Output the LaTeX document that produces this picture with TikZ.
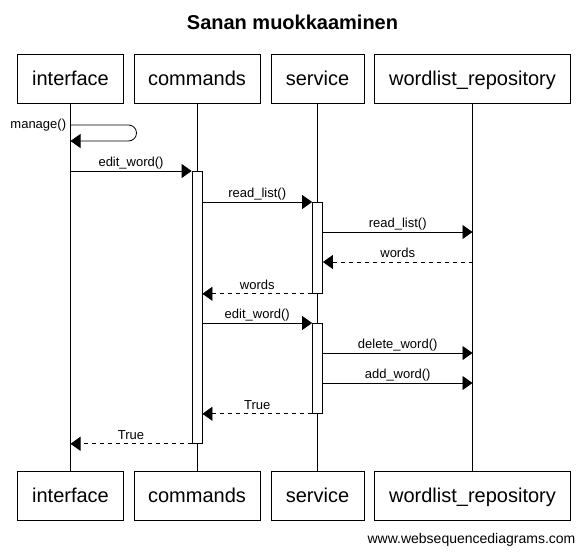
\documentclass[tikz,border=0pt]{standalone}
\usepackage{fontspec}
\setmainfont{Liberation Sans}
\usepackage{tikz}
\usetikzlibrary{arrows.meta, positioning}

\begin{document}
\begin{tikzpicture}[x=1pt, y=-1pt]
\tikzstyle{actorbox} = [rectangle, draw, line width=0.8pt, minimum height=49pt, inner sep=0pt, text height=17pt, text depth=4pt, font=\fontsize{20}{24}\selectfont]
\tikzstyle{actbar} = [rectangle, draw, line width=0.8pt, fill=white, minimum width=10pt, inner sep=0pt]
\tikzstyle{msg} = [-{Triangle[length=10pt, width=14pt]}, line width=0.8pt]
\tikzstyle{reply} = [msg, dash pattern=on 4pt off 4pt]
\tikzstyle{msglabel} = [font=\fontsize{13}{15}\selectfont, inner sep=1.2pt, text height=9.5pt, text depth=2.8pt]

\useasboundingbox (0,0) rectangle (585,554);

\node (title) at (292.5,22) {\fontsize{20}{24}\selectfont\bfseries Sanan muokkaaminen};

% participants, top and bottom
\node (ui) [actorbox, minimum width=106pt] at (70.5,78.5) {interface};
\node (cmd) [actorbox, minimum width=126pt] at (197,78.5) {commands};
\node (sv) [actorbox, minimum width=93pt] at (317.5,78.5) {service};
\node (repo) [actorbox, minimum width=196pt] at (472.5,78.5) {wordlist\_repository};

\node (ui2) [actorbox, minimum width=106pt] at (70.5,496) {interface};
\node (cmd2) [actorbox, minimum width=126pt] at (197,496) {commands};
\node (sv2) [actorbox, minimum width=93pt] at (317.5,496) {service};
\node (repo2) [actorbox, minimum width=196pt] at (472.5,496) {wordlist\_repository};

\draw[line width=0.8pt] (ui) -- (ui2);
\draw[line width=0.8pt] (cmd) -- (cmd2);
\draw[line width=0.8pt] (sv) -- (sv2);
\draw[line width=0.8pt] (repo) -- (repo2);

% activation bars
\node (cmdbar) [actbar, minimum height=272pt, anchor=north] at (197,171) {};
\node (svbar1) [actbar, minimum height=91pt, anchor=north] at (317.5,202) {};
\node (svbar2) [actbar, minimum height=90pt, anchor=north] at (317.5,323) {};

% message levels
\coordinate (m1) at (70.5,125);
\coordinate (m2) at (70.5,141);
\coordinate (r1) at (472.5,232);
\coordinate (r2) at (472.5,262);
\coordinate (r3) at (472.5,353);
\coordinate (r4) at (472.5,383);

\draw[msg, rounded corners=8pt] (m1) node[msglabel, left, inner sep=4pt] {manage()} -- ++(66,0) |- (m2);
\draw[msg] (ui |- cmdbar.north) -- (cmdbar.north west) node[msglabel, above, midway] {edit\_word()};
\draw[msg] (cmdbar.east |- svbar1.north) -- (svbar1.north west) node[msglabel, above, midway] {read\_list()};
\draw[msg] (svbar1.east |- r1) -- (r1) node[msglabel, above, midway] {read\_list()};
\draw[reply] (r2) -- (svbar1.east |- r2) node[msglabel, above, midway] {words};
\draw[reply] (svbar1.south west) -- (cmdbar.east |- svbar1.south) node[msglabel, above, midway] {words};
\draw[msg] (cmdbar.east |- svbar2.north) -- (svbar2.north west) node[msglabel, above, midway] {edit\_word()};
\draw[msg] (svbar2.east |- r3) -- (r3) node[msglabel, above, midway] {delete\_word()};
\draw[msg] (svbar2.east |- r4) -- (r4) node[msglabel, above, midway] {add\_word()};
\draw[reply] (svbar2.south west) -- (cmdbar.east |- svbar2.south) node[msglabel, above, midway] {True};
\draw[reply] (cmdbar.south west) -- (ui |- cmdbar.south) node[msglabel, above, midway] {True};

\node (footer) at (471.5,540) {\fontsize{14}{16}\selectfont www.websequencediagrams.com};
\end{tikzpicture}
\end{document}
